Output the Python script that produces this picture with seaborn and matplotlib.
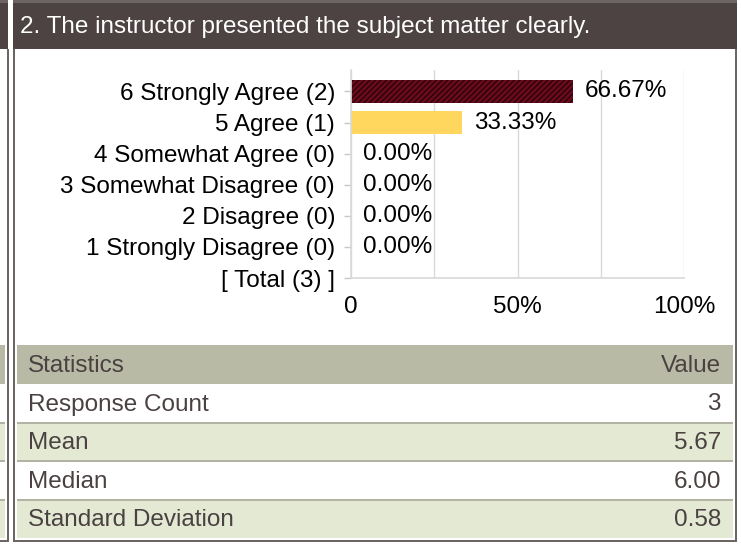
import matplotlib
matplotlib.use("Agg")
import matplotlib.pyplot as plt
import seaborn as sns
import pandas as pd
from matplotlib.patches import Rectangle

# ---- data ----
title = "2. The instructor presented the subject matter clearly."
categories = ["6 Strongly Agree (2)", "5 Agree (1)", "4 Somewhat Agree (0)",
              "3 Somewhat Disagree (0)", "2 Disagree (0)", "1 Strongly Disagree (0)",
              "[ Total (3) ]"]
percents = [66.67, 33.33, 0.0, 0.0, 0.0, 0.0, None]
bar_colors = ["#6b0a1c", "#ffd75e", "#ffd75e", "#ffd75e", "#ffd75e", "#ffd75e", "#ffffff"]
xticks = [0, 50, 100]
xtick_labels = ["0", "50%", "100%"]
stat_header = ["Statistics", "Value"]
stat_names = ["Response Count", "Mean", "Median", "Standard Deviation"]
stat_values = ["3", "5.67", "6.00", "0.58"]

W, H = 741, 545
sns.set_theme(style="white")
plt.rcParams["font.family"] = ["Liberation Sans", "DejaVu Sans"]
plt.rcParams["hatch.linewidth"] = 0.8

fig = plt.figure(figsize=(W / 100, H / 100), dpi=100)
fig.patch.set_facecolor("white")

# background / frame axes in pixel coordinates
bg = fig.add_axes([0, 0, 1, 1], zorder=0)
bg.set_xlim(0, W)
bg.set_ylim(H, 0)
bg.axis("off")

dark = "#4c4342"
border = "#6c6563"
hdr_gray = "#b8baa5"
green = "#e4e9d4"
sep = "#b2b3a2"
txt = "#4a4141"

def rect(x0, y0, x1, y1, color):
    bg.add_patch(Rectangle((x0, y0), x1 - x0, y1 - y0, facecolor=color, edgecolor="none", lw=0))

# top stripe + headers
rect(0, 0, 8, 3, border)
rect(13, 0, 737, 3, border)
rect(0, 3, 8, 49, dark)
rect(13, 3, 737, 49, dark)
bg.text(20, 27, title, color="white", fontsize=17.5, va="center", ha="left")

# table rows
row_bounds = [(345, 384), (384, 423), (423, 461), (461, 500), (500, 538)]
row_fill = [hdr_gray, "white", green, "white", green]
for (y0, y1), c in zip(row_bounds, row_fill):
    rect(17, y0, 733, y1, c)
    rect(0, y0, 5, y1, c)
for (y0, y1) in row_bounds[2:]:
    rect(17, y0 - 1, 733, y0 + 1, sep)
    rect(0, y0 - 1, 5, y0 + 1, sep)

labels_all = [stat_header[0]] + stat_names
values_all = [stat_header[1]] + stat_values
for (y0, y1), lab, val in zip(row_bounds, labels_all, values_all):
    yc = (y0 + y1) / 2 + 1
    bg.text(28, yc, lab, color=txt, fontsize=17.5, va="center", ha="left")
    bg.text(721, yc, val, color=txt, fontsize=17.5, va="center", ha="right")

# panel borders
rect(6.5, 49, 8.5, 541, border)
rect(0, 539.5, 8.5, 541.5, border)
rect(13, 49, 15, 541.5, border)
rect(735, 49, 737, 541.5, border)
rect(13, 539.5, 737, 541.5, border)

# ---- chart ----
ax_l, ax_r, ax_t, ax_b = 351, 684, 70, 278
ax = fig.add_axes([ax_l / W, 1 - ax_b / H, (ax_r - ax_l) / W, (ax_b - ax_t) / H], zorder=2)
ax.patch.set_alpha(0)

df = pd.DataFrame({"cat": categories, "pct": [p if p is not None else 0 for p in percents]})
sns.barplot(data=df, x="pct", y="cat", order=categories, hue="cat", palette=bar_colors,
            legend=False, orient="h", width=0.74, ax=ax, linewidth=0, saturation=1)
ax.patches[0].set_hatch("//////")
ax.patches[0].set_edgecolor("#1c0306")
ax.patches[0].set_linewidth(0)

ax.set_xlim(0, 100)
ax.set_ylim(len(categories) - 1, -0.69)
ax.set_xticks(xticks)
ax.set_xticklabels(xtick_labels)
ax.set_xticks([25, 75], minor=True)
ax.grid(axis="x", which="both", color="#d9d9d9", lw=1)
ax.set_axisbelow(True)
ax.set_xlabel("")
ax.set_ylabel("")
for s in ["top", "right"]:
    ax.spines[s].set_visible(False)
ax.spines["left"].set_color("#d9d9d9")
ax.spines["bottom"].set_color("#d9d9d9")
ax.tick_params(axis="x", which="both", length=0, pad=13, labelsize=17.5, colors="black")
ax.tick_params(axis="y", length=5, width=1, color="#c8c8c8", pad=6.5, labelsize=17.5,
               labelcolor="black", left=True)
ax.set_yticks(range(len(categories)))
ax.set_yticklabels(categories)

for i, p in enumerate(percents):
    if p is None:
        continue
    ax.annotate(f"{p:.2f}%", xy=(p, i), xytext=(8.5, 0), textcoords="offset points",
                va="center", ha="left", fontsize=17.5, color="black")

fig.savefig("out.png", dpi=100)
